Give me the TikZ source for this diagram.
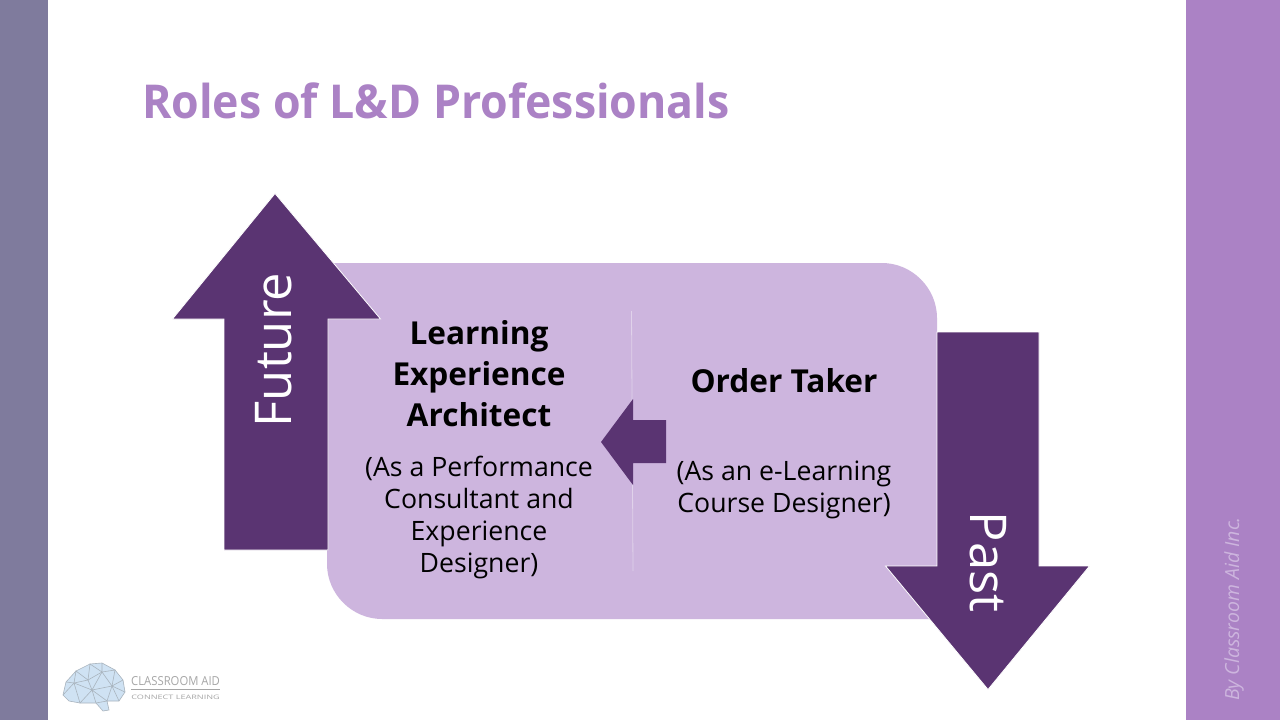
\documentclass[tikz,border=0pt]{standalone}
\usepackage{fontspec}
\setmainfont{Open Sans}
\definecolor{sidebar}{HTML}{7F7B9D}
\definecolor{accent}{HTML}{AB82C5}
\definecolor{panel}{HTML}{CDB5DE}
\definecolor{deep}{HTML}{5A3472}
\definecolor{rulepale}{HTML}{E0D2EA}
\definecolor{meshline}{HTML}{A9B4BE}
\definecolor{meshfill}{HTML}{CFE2F3}
\definecolor{logotext}{HTML}{A6A6A6}
\tikzset{
  x=0.75pt,y=-0.75pt,
  blockarrow/.style={fill=deep,draw=white,line width=0.6pt,line join=miter},
  heading/.style={font=\fontsize{23.7}{31}\selectfont\bfseries,align=center,text=black,inner sep=0pt},
  detail/.style={font=\fontsize{20}{24}\selectfont,align=center,text=black,inner sep=0pt},
  arrowlabel/.style={font=\fontsize{38}{40}\selectfont,text=white,inner sep=0pt},
  mesh/.style={draw=meshline,line width=0.45pt},
}
\begin{document}
\begin{tikzpicture}
\useasboundingbox (0,0) rectangle (1280,720);
\fill[white] (0,0) rectangle (1280,720);

% side bands
\fill[sidebar] (0,0) rectangle (48,720);
\fill[accent] (1186,0) rectangle (1280,720);

% title
\node[anchor=west,inner sep=0pt,text=accent,font=\fontsize{35}{40}\selectfont\bfseries,xscale=0.957] (title) at (142,100.5) {Roles of L\&D Professionals};

% central panel: two opposite corners rounded
\fill[panel] (327,263) -- (882,263) .. controls (912,263) and (937,288) .. (937,318)
  -- (937,619) -- (382,619) .. controls (352,619) and (327,594) .. (327,564) -- cycle;
\draw[rulepale,line width=0.6pt] (631.5,311) -- (633,571);

% direction arrows
\draw[blockarrow] (275,193.5) -- (380.5,319) -- (328,319) -- (328,550) -- (224,550) -- (224,319) -- (172.5,319) -- cycle;
\draw[blockarrow] (988,689.5) -- (1089.5,566) -- (1039,566) -- (1039,332) -- (937,332) -- (937,566) -- (885.5,566) -- cycle;
\fill[deep] (601,442) -- (633,399) -- (633,420) -- (666,420) -- (666,463) -- (633,463) -- (633,485) -- cycle;

\node[arrowlabel,rotate=90] (future) at (274,350) {Future};
\node[arrowlabel,rotate=-90] (past) at (988,562) {Past};

% panel text
\node[heading] (architect) at (479,373.5) {Learning\\Experience\\Architect};
\node[detail] (consultant) at (479,517.5) {(As a Performance\\Consultant and\\Experience\\Designer)};
\node[heading] (taker) at (784,381) {Order Taker};
\node[detail] (designer) at (784,490) {(As an e-Learning\\Course Designer)};

% credit in the right band
\node[rotate=90,text=panel,inner sep=0pt,font=\fontsize{14.6}{16}\selectfont\itshape] (credit) at (1234,609) {By Classroom Aid Inc.};

% logo: brain outline and its mesh
\fill[meshfill] (63,695) -- (66,682) -- (76,671) -- (90,664) -- (102,663) -- (115,670) -- (123,680) -- (125,692) -- (119,701) -- (107,701) -- (109,710) -- (103,711) -- (96,703) -- (80,703) -- (69,701) -- cycle;
\draw[mesh] (63,695) -- (66,682) -- (76,671) -- (90,664) -- (102,663) -- (115,670) -- (123,680) -- (125,692) -- (119,701) -- (107,701) -- (109,710) -- (103,711) -- (96,703) -- (80,703) -- (69,701) -- cycle;
\draw[mesh] (66,682) -- (74,683) -- (76,671) -- (88,680) -- (90,664) -- (102,672) -- (102,663);
\draw[mesh] (74,683) -- (88,680) -- (102,672) -- (115,670) -- (112,686) -- (123,680);
\draw[mesh] (63,695) -- (74,683) -- (80,703) -- (92,690) -- (96,703) -- (107,701) -- (112,686) -- (125,692);
\draw[mesh] (88,680) -- (92,690) -- (74,683);
\draw[mesh] (102,672) -- (112,686) -- (92,690) -- (107,701);
\draw[mesh] (102,672) -- (92,690);
\draw[mesh] (112,686) -- (119,701);
\node[anchor=west,inner sep=0pt,text=logotext,font=\fontsize{9.3}{10}\selectfont,xscale=0.91] (brand) at (131,681.5) {CLASSROOM AID};
\node[anchor=west,inner sep=0pt,text=logotext,font=\fontsize{4.6}{6}\selectfont,xscale=1.48] (tagline) at (131,697) {CONNECT LEARNING};
\coordinate (ruleL) at (131,689.5);
\coordinate (ruleR) at (220,689.5);
\draw[logotext,line width=1pt] (ruleL) -- (ruleR);
\end{tikzpicture}
\end{document}
